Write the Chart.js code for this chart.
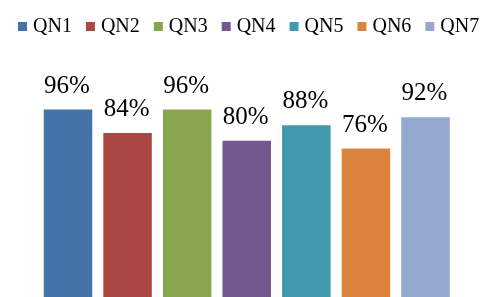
<!DOCTYPE html>
<html>
<head>
<meta charset="utf-8">
<script src="https://cdn.jsdelivr.net/npm/chart.js@4"></script>
<style>
  html, body { margin: 0; padding: 0; background: #fff; }
  #wrap { width: 483px; height: 297px; position: relative; }
  #probe { position: absolute; left: -9999px; top: 0; font-family: "Liberation Serif"; font-size: 20px; }
</style>
</head>
<body>
<div id="probe">QN1 96%</div>
<div id="wrap"><canvas id="c"></canvas></div>
<script>
const categories = ['QN1', 'QN2', 'QN3', 'QN4', 'QN5', 'QN6', 'QN7'];
const values = [96, 84, 96, 80, 88, 76, 92];
const colors = ['#4572A7', '#AA4643', '#89A54E', '#71588F', '#4198AF', '#DB843D', '#93A9CF'];

const FONT = '"Liberation Serif", "Times New Roman", Times, serif';

function legendSwatch(color) {
  const cv = document.createElement('canvas');
  cv.width = 29; cv.height = 10;
  const g = cv.getContext('2d');
  g.fillStyle = color;
  g.fillRect(18, 0, 9, 9);
  return cv;
}

const datasets = categories.map((name, i) => ({
  label: name,
  data: categories.map((_, j) => (j === i ? values[i] : null)),
  backgroundColor: colors[i],
  borderWidth: 0
}));

const valueLabels = {
  id: 'valueLabels',
  afterDatasetsDraw(chart) {
    const ctx = chart.ctx;
    ctx.save();
    ctx.font = '25px ' + FONT;
    ctx.fillStyle = '#000';
    ctx.textAlign = 'center';
    ctx.textBaseline = 'alphabetic';
    chart.data.datasets.forEach((ds, di) => {
      const meta = chart.getDatasetMeta(di);
      meta.data.forEach((el, k) => {
        const v = ds.data[k];
        if (v === null || v === undefined) return;
        ctx.fillText(v + '%', el.x - 1, el.y - 17);
      });
    });
    ctx.restore();
  }
};

function build() {
  new Chart(document.getElementById('c'), {
    type: 'bar',
    data: { labels: categories, datasets },
    options: {
      responsive: true,
      maintainAspectRatio: false,
      animation: false,
      grouped: false,
      categoryPercentage: 0.814,
      barPercentage: 1,
      layout: { padding: { left: 4, top: 15, right: 0, bottom: 0 } },
      plugins: {
        tooltip: { enabled: false },
        legend: {
          display: true,
          position: 'top',
          align: 'start',
          labels: {
            color: '#000',
            font: { family: FONT, size: 20 },
            usePointStyle: true,
            boxWidth: 17,
            boxHeight: 10,
            padding: 2,
            generateLabels(chart) {
              return chart.data.datasets.map((ds, i) => ({
                text: ds.label,
                fillStyle: ds.backgroundColor,
                strokeStyle: ds.backgroundColor,
                lineWidth: 0,
                hidden: false,
                datasetIndex: i,
                pointStyle: legendSwatch(ds.backgroundColor),
                fontColor: '#000'
              }));
            }
          }
        }
      },
      scales: {
        x: { display: false },
        y: {
          display: true,
          min: 0,
          max: 128,
          ticks: { display: false },
          grid: { display: false },
          border: { display: false },
          afterFit(scale) { scale.width = 34.2; }
        },
        yRight: {
          display: true,
          position: 'right',
          min: 0,
          max: 1,
          ticks: { display: false },
          grid: { display: false },
          border: { display: false },
          afterFit(scale) { scale.width = 27.7; }
        }
      }
    },
    plugins: [valueLabels]
  });
}

if (document.fonts && document.fonts.load) {
  Promise.all([
    document.fonts.load('20px "Liberation Serif"'),
    document.fonts.load('25px "Liberation Serif"')
  ]).then(build, build);
} else {
  build();
}
</script>
</body>
</html>
